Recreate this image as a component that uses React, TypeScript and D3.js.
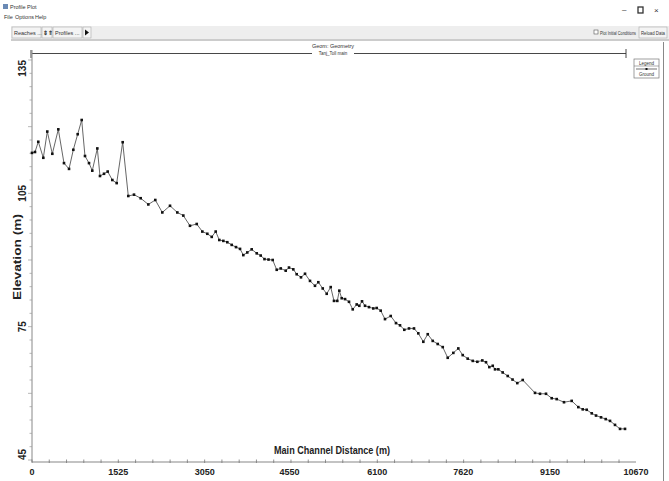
import React from "react";
import * as d3 from "d3";

// ground profile (distance in m, elevation in m)
const distances = [
  0, 53, 111, 200, 270, 359, 465, 565, 654, 730, 807, 878, 936, 1007, 1065,
  1154, 1201, 1272, 1337, 1419, 1496, 1602, 1701, 1802, 1920, 2055, 2178,
  2302, 2438, 2567, 2673, 2791, 2910, 3009, 3097, 3175, 3245, 3309, 3380,
  3450, 3528, 3604, 3675, 3733, 3803, 3881, 3970, 4040, 4107, 4178, 4252,
  4323, 4394, 4482, 4540, 4616, 4676, 4752, 4823, 4911, 4999, 5058, 5136,
  5206, 5277, 5335, 5393, 5429, 5471, 5530, 5600, 5666, 5736, 5782, 5830,
  5883, 5953, 6029, 6089, 6160, 6236, 6337, 6430, 6501, 6577, 6660, 6748,
  6824, 6913, 6991, 7079, 7167, 7256, 7344, 7443, 7531, 7609, 7697, 7786,
  7867, 7955, 8020, 8079, 8139, 8180, 8238, 8315, 8404, 8489, 8573, 8669,
  8886, 8974, 9080, 9181, 9269, 9398, 9534, 9651, 9729, 9799, 9888, 9964,
  10052, 10135, 10211, 10299, 10388, 10476,
];
const elevations = [
  114.1, 114.3, 116.6, 113.0, 118.9, 113.9, 119.4, 111.8, 110.5, 114.8,
  118.3, 121.5, 113.4, 111.8, 110.1, 115.1, 108.9, 109.4, 109.9, 108.0,
  107.3, 116.5, 104.4, 104.7, 103.9, 102.5, 103.5, 100.7, 102.2, 100.7,
  100.0, 97.7, 98.1, 96.4, 95.9, 95.2, 96.4, 94.5, 94.3, 94.0, 93.4, 92.9,
  92.5, 91.1, 91.7, 92.4, 91.5, 91.0, 90.2, 90.1, 90.0, 87.8, 88.1, 87.6,
  88.3, 87.9, 86.8, 86.1, 86.9, 85.3, 84.2, 85.0, 83.6, 82.4, 83.9, 80.8,
  80.8, 83.1, 81.4, 81.2, 80.6, 78.9, 80.0, 79.7, 80.7, 79.7, 79.4, 79.1,
  79.2, 78.6, 76.7, 77.4, 75.8, 75.3, 74.3, 74.6, 74.6, 73.5, 71.6, 73.3,
  71.8, 71.1, 70.4, 68.0, 69.1, 70.1, 68.6, 67.8, 67.3, 67.1, 67.4, 67.0,
  65.9, 66.2, 65.4, 65.4, 64.7, 63.9, 63.1, 62.3, 63.0, 60.1, 59.9, 59.9,
  58.9, 58.7, 58.0, 58.3, 56.9, 56.4, 56.3, 55.5, 55.0, 54.6, 54.2, 53.8,
  52.9, 52.0, 52.0,
];

const xTickLabels = [0, 1525, 3050, 4550, 6100, 7620, 9150, 10670];
const yTickLabels = [135, 105, 75, 45];

const W = 669;
const H = 481;
const font = "'Liberation Sans', Arial, sans-serif";

export default function App() {
  const x = d3.scaleLinear().domain([0, 10670]).range([32, 636]);
  const y = d3.scaleLinear().domain([45, 135]).range([460, 60]);
  const axisY = 462;

  const pts = distances.map((d, i) => [d, elevations[i]] as [number, number]);
  const line = d3
    .line<[number, number]>()
    .x((d) => x(d[0]))
    .y((d) => y(d[1]));

  const xMinor = d3.range(0, 10670 + 1, 305);
  const yMinor = d3.range(45, 136, 3);
  const yAnchor = ["end", "middle", "middle", "start"];

  return (
    <div style={{ position: "absolute", left: 0, top: 0 }}>
      <svg width={W} height={H} style={{ display: "block", background: "#fff" }}>
        {/* window chrome */}
        <g fontFamily={font} fill="#333" fontSize={5.5}>
          <rect x={3} y={4} width={5} height={5} fill="#6a8ab5" />
          <text x={10} y={9}>Profile Plot</text>
          <text x={4} y={19}>File</text>
          <text x={15} y={19}>Options</text>
          <text x={35} y={19}>Help</text>
          <text x={622} y={12} fontSize={8}>–</text>
          <rect x={638} y={7} width={5} height={6} fill="none" stroke="#333" strokeWidth={1.3} />
          <text x={654} y={13} fontSize={8}>×</text>
        </g>
        <rect x={11} y={26} width={658} height={13} fill="#eeeeee" />
        <line x1={11} x2={669} y1={40} y2={40} stroke="#999" strokeWidth={1} />
        <g fontFamily={font} fontSize={5.5} fill="#333">
          <rect x={12} y={27} width={29} height={11} fill="#f4f4f4" stroke="#aaa" strokeWidth={0.6} />
          <text x={14} y={35}>Reaches ...</text>
          <rect x={42} y={27} width={10} height={11} fill="#f4f4f4" stroke="#aaa" strokeWidth={0.6} />
          <text x={43} y={35} fontWeight="bold">⇕⇑</text>
          <rect x={53} y={27} width={29} height={11} fill="#f4f4f4" stroke="#aaa" strokeWidth={0.6} />
          <text x={55} y={35}>Profiles ...</text>
          <rect x={83} y={27} width={8} height={11} fill="#f4f4f4" stroke="#aaa" strokeWidth={0.6} />
          <path d="M85,29.5 L89,32.5 L85,35.5 Z" fill="#111" />
          <rect x={594} y={30} width={4} height={4} fill="#fff" stroke="#555" strokeWidth={0.6} />
          <text x={600} y={34.5} fontSize={4.5} textLength={36} lengthAdjust="spacingAndGlyphs">
            Plot Initial Conditions
          </text>
          <rect x={639} y={27} width={28} height={11} fill="#f4f4f4" stroke="#aaa" strokeWidth={0.6} />
          <text x={641} y={35} fontSize={4.5} textLength={24} lengthAdjust="spacingAndGlyphs">
            Reload Data
          </text>
        </g>

        {/* header: geometry and reach */}
        <text x={333} y={48} fontFamily={font} fontSize={5.5} textAnchor="middle" fill="#333">
          Geom: Geometry
        </text>
        <line x1={32} x2={626} y1={53.5} y2={53.5} stroke="#333" strokeWidth={0.9} />
        <line x1={31} x2={31} y1={50} y2={58} stroke="#333" strokeWidth={0.9} />
        <line x1={626} x2={626} y1={49} y2={58} stroke="#333" strokeWidth={0.9} />
        <rect x={312} y={50} width={42} height={6} fill="#fff" />
        <text x={333} y={55} fontFamily={font} fontSize={4.5} textAnchor="middle" fill="#333">
          Tanj_Toll main
        </text>

        {/* right edge */}
        <line x1={663.5} x2={663.5} y1={42} y2={H} stroke="#888" strokeWidth={1} />

        {/* legend */}
        <g fontFamily={font} fontSize={4.5} fill="#333">
          <rect x={634} y={59} width={25} height={19} fill="#fff" stroke="#777" strokeWidth={0.7} />
          <line x1={634} x2={659} y1={66} y2={66} stroke="#777" strokeWidth={0.6} />
          <text x={646.5} y={64.5} textAnchor="middle">Legend</text>
          <line x1={636} x2={657} y1={69} y2={69} stroke="#333" strokeWidth={0.7} />
          <rect x={645.5} y={68} width={2} height={2} fill="#111" />
          <text x={646.5} y={75.5} textAnchor="middle">Ground</text>
        </g>

        {/* axes */}
        <line x1={32} x2={32} y1={50} y2={axisY} stroke="#888" strokeWidth={1} />
        <line x1={32} x2={636} y1={axisY} y2={axisY} stroke="#888" strokeWidth={1.2} />
        {yMinor.map((v) => (
          <line
            key={"ym" + v}
            x1={(v - 45) % 15 === 0 ? 28 : 29.5}
            x2={32}
            y1={y(v)}
            y2={y(v)}
            stroke="#999"
            strokeWidth={0.7}
          />
        ))}
        {xMinor.map((v) => (
          <line
            key={"xm" + v}
            x1={x(v)}
            x2={x(v)}
            y1={axisY - 2.5}
            y2={axisY + 1}
            stroke="#777"
            strokeWidth={0.8}
          />
        ))}
        <g fontFamily={font} fontWeight="bold" fontSize={10} fill="#222">
          {yTickLabels.map((v, i) => (
            <text
              key={"yl" + v}
              transform={`translate(26,${y(v)}) rotate(-90)`}
              textAnchor={yAnchor[i]}
            >
              {v}
            </text>
          ))}
          {xTickLabels.map((v) => (
            <text key={"xl" + v} x={x(v)} y={475} textAnchor="middle" fontSize={9}>
              {v}
            </text>
          ))}
          <text
            transform="translate(21,257) rotate(-90)"
            textAnchor="middle"
            fontSize={10.5}
            textLength={86}
            lengthAdjust="spacingAndGlyphs"
          >
            Elevation (m)
          </text>
          <text
            x={332}
            y={454}
            textAnchor="middle"
            fontSize={10.5}
            textLength={116}
            lengthAdjust="spacingAndGlyphs"
          >
            Main Channel Distance (m)
          </text>
        </g>

        {/* ground profile */}
        <path d={line(pts) ?? ""} fill="none" stroke="#555" strokeWidth={0.9} />
        {pts.map((p, i) => (
          <rect
            key={"p" + i}
            x={x(p[0]) - 1.3}
            y={y(p[1]) - 1.3}
            width={2.6}
            height={2.6}
            fill="#111"
          />
        ))}
      </svg>
    </div>
  );
}
